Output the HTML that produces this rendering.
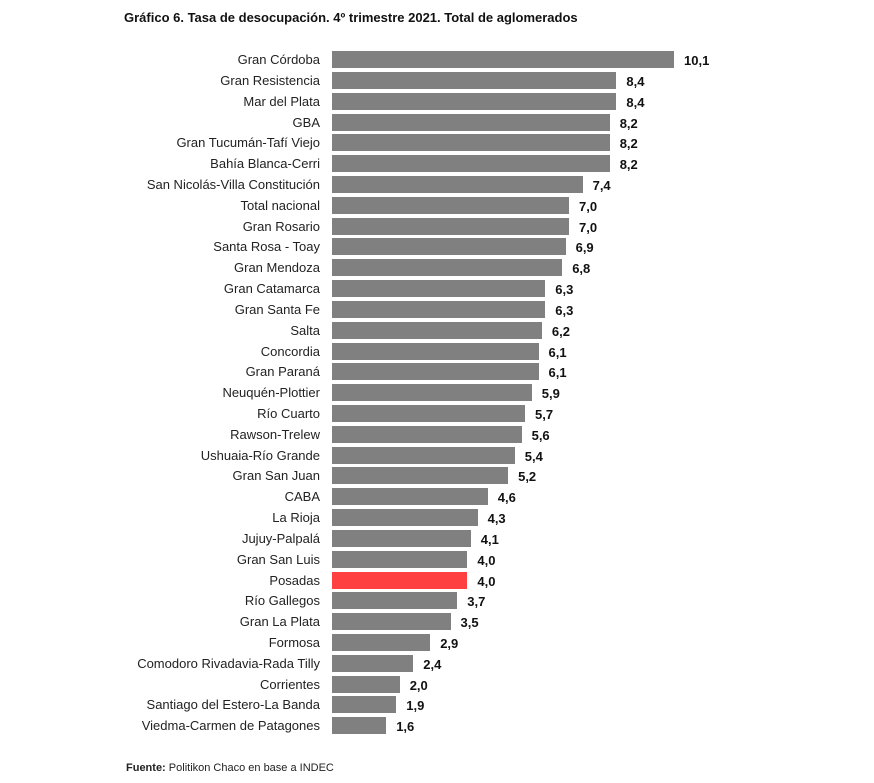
<!DOCTYPE html>
<html><head><meta charset="utf-8"><style>
body{margin:0;width:874px;height:783px;background:#fff;position:relative;font-family:"Liberation Sans",sans-serif;overflow:hidden}
.t{position:absolute;left:124px;top:10px;font-size:13px;font-weight:bold;color:#111}
.l{position:absolute;right:554px;font-size:13px;color:#222;line-height:17px;white-space:nowrap}
.b{position:absolute;left:332px;height:17px;background:#808080}
.v{position:absolute;font-size:13px;font-weight:bold;color:#111;line-height:17px}
.f{position:absolute;left:126px;top:762px;font-size:11px;color:#222}
</style></head><body>
<div class="t">Gráfico 6. Tasa de desocupación. 4º trimestre 2021. Total de aglomerados</div>
<div id="c"></div>
<div class="f"><b>Fuente:</b> Politikon Chaco en base a INDEC</div>
<script>
var d=[["Gran Córdoba",10.1],["Gran Resistencia",8.4],["Mar del Plata",8.4],["GBA",8.2],["Gran Tucumán-Tafí Viejo",8.2],["Bahía Blanca-Cerri",8.2],["San Nicolás-Villa Constitución",7.4],["Total nacional",7.0],["Gran Rosario",7.0],["Santa Rosa - Toay",6.9],["Gran Mendoza",6.8],["Gran Catamarca",6.3],["Gran Santa Fe",6.3],["Salta",6.2],["Concordia",6.1],["Gran Paraná",6.1],["Neuquén-Plottier",5.9],["Río Cuarto",5.7],["Rawson-Trelew",5.6],["Ushuaia-Río Grande",5.4],["Gran San Juan",5.2],["CABA",4.6],["La Rioja",4.3],["Jujuy-Palpalá",4.1],["Gran San Luis",4.0],["Posadas",4.0],["Río Gallegos",3.7],["Gran La Plata",3.5],["Formosa",2.9],["Comodoro Rivadavia-Rada Tilly",2.4],["Corrientes",2.0],["Santiago del Estero-La Banda",1.9],["Viedma-Carmen de Patagones",1.6]];
var h="";
d.forEach(function(r,i){var t=(51+i*20.82).toFixed(1);var w=(r[1]*33.86).toFixed(1);
h+='<div class="l" style="top:'+t+'px">'+r[0]+'</div><div class="b" style="top:'+t+'px;width:'+w+'px;'+(r[0]=="Posadas"?'background:#ff4040':'')+'"></div><div class="v" style="top:'+(+t+1)+'px;left:'+(332+ +w+10)+'px">'+r[1].toFixed(1).replace(".",",")+'</div>';});
document.getElementById("c").innerHTML=h;
</script>
</body></html>
